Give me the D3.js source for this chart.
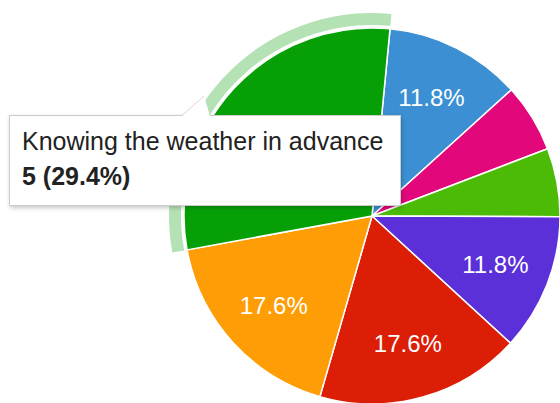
<!DOCTYPE html>
<html>
<head>
<meta charset="utf-8">
<script src="https://cdn.jsdelivr.net/npm/d3@7"></script>
<style>
  html, body { margin: 0; padding: 0; background: #fff; }
  svg { display: block; font-family: "Liberation Sans", Arial, sans-serif; }
</style>
</head>
<body>
<svg id="chart" width="560" height="403"></svg>
<script>
// Survey answers, listed clockwise from the top of the pie
const categories = [
  "Answer A",
  "Answer B",
  "Answer C",
  "Answer D",
  "Answer E",
  "Answer F",
  "Knowing the weather in advance"
];
const counts = [2, 1, 1, 2, 3, 3, 5];
const colors = ["#3b8fd2", "#e2077b", "#4bbb06", "#5b30d8", "#db1e05", "#fe9d05", "#06a006"];
const hoveredIndex = 6;

const svg = d3.select("#chart");
const cx = 372, cy = 216, radius = 188;
const startOffset = 5.5 * Math.PI / 180;

const total = d3.sum(counts);
const pct = d3.format(".1%");

const pie = d3.pie()
  .value(d => d)
  .sort(null)
  .startAngle(startOffset)
  .endAngle(startOffset + 2 * Math.PI);

const arcs = pie(counts);

const arc = d3.arc().innerRadius(0).outerRadius(radius);
const ringArc = d3.arc().innerRadius(radius + 3).outerRadius(radius + 15);
const labelArc = d3.arc().innerRadius(radius * 0.705).outerRadius(radius * 0.705);

const defs = svg.append("defs");
const shadow = defs.append("filter").attr("id", "tipShadow")
  .attr("x", "-10%").attr("y", "-20%").attr("width", "120%").attr("height", "150%");
shadow.append("feDropShadow")
  .attr("dx", 1).attr("dy", 2).attr("stdDeviation", 2)
  .attr("flood-color", "#000").attr("flood-opacity", 0.22);

const g = svg.append("g").attr("transform", `translate(${cx},${cy})`);

// hover ring around the highlighted slice
g.append("path")
  .attr("d", ringArc(arcs[hoveredIndex]))
  .attr("fill", colors[hoveredIndex])
  .attr("fill-opacity", 0.3);

// slices
g.selectAll("path.slice")
  .data(arcs)
  .join("path")
  .attr("class", "slice")
  .attr("d", arc)
  .attr("fill", (d, i) => colors[i])
  .attr("stroke", "#fff")
  .attr("stroke-width", 1.5);

// percentage labels for slices large enough to hold them;
// the hovered slice shows its value in the tooltip instead
g.selectAll("text.pct")
  .data(arcs.filter(d => d.value / total > 0.1 && d.index !== hoveredIndex))
  .join("text")
  .attr("class", "pct")
  .attr("transform", d => `translate(${labelArc.centroid(d)})`)
  .attr("text-anchor", "middle")
  .attr("dy", "0.36em")
  .attr("fill", "#fff")
  .attr("font-size", 24)
  .text(d => pct(d.value / total));

// tooltip for the hovered slice
const tip = svg.append("g").attr("class", "tooltip");
const tipX = 9.5, tipY = 115.5, tipW = 391, tipH = 90;

tip.append("rect")
  .attr("x", tipX).attr("y", tipY)
  .attr("width", tipW).attr("height", tipH)
  .attr("fill", "#fff")
  .attr("stroke", "#cccccc")
  .attr("stroke-width", 1)
  .attr("filter", "url(#tipShadow)");

// small pointer toward the slice
tip.append("path")
  .attr("d", `M182,${tipY + 0.5} L204,96 L210,${tipY + 0.5} Z`)
  .attr("fill", "#fff");
tip.append("path")
  .attr("d", `M182,${tipY} L204,96`)
  .attr("fill", "none")
  .attr("stroke", "#d6d6d6")
  .attr("stroke-width", 1);

tip.append("text")
  .attr("x", 22).attr("y", 150)
  .attr("font-size", 25)
  .attr("fill", "#222")
  .text(categories[hoveredIndex]);

tip.append("text")
  .attr("x", 22).attr("y", 185)
  .attr("font-size", 25)
  .attr("font-weight", "bold")
  .attr("fill", "#222")
  .text(`${counts[hoveredIndex]} (${pct(counts[hoveredIndex] / total)})`);
</script>
</body>
</html>
